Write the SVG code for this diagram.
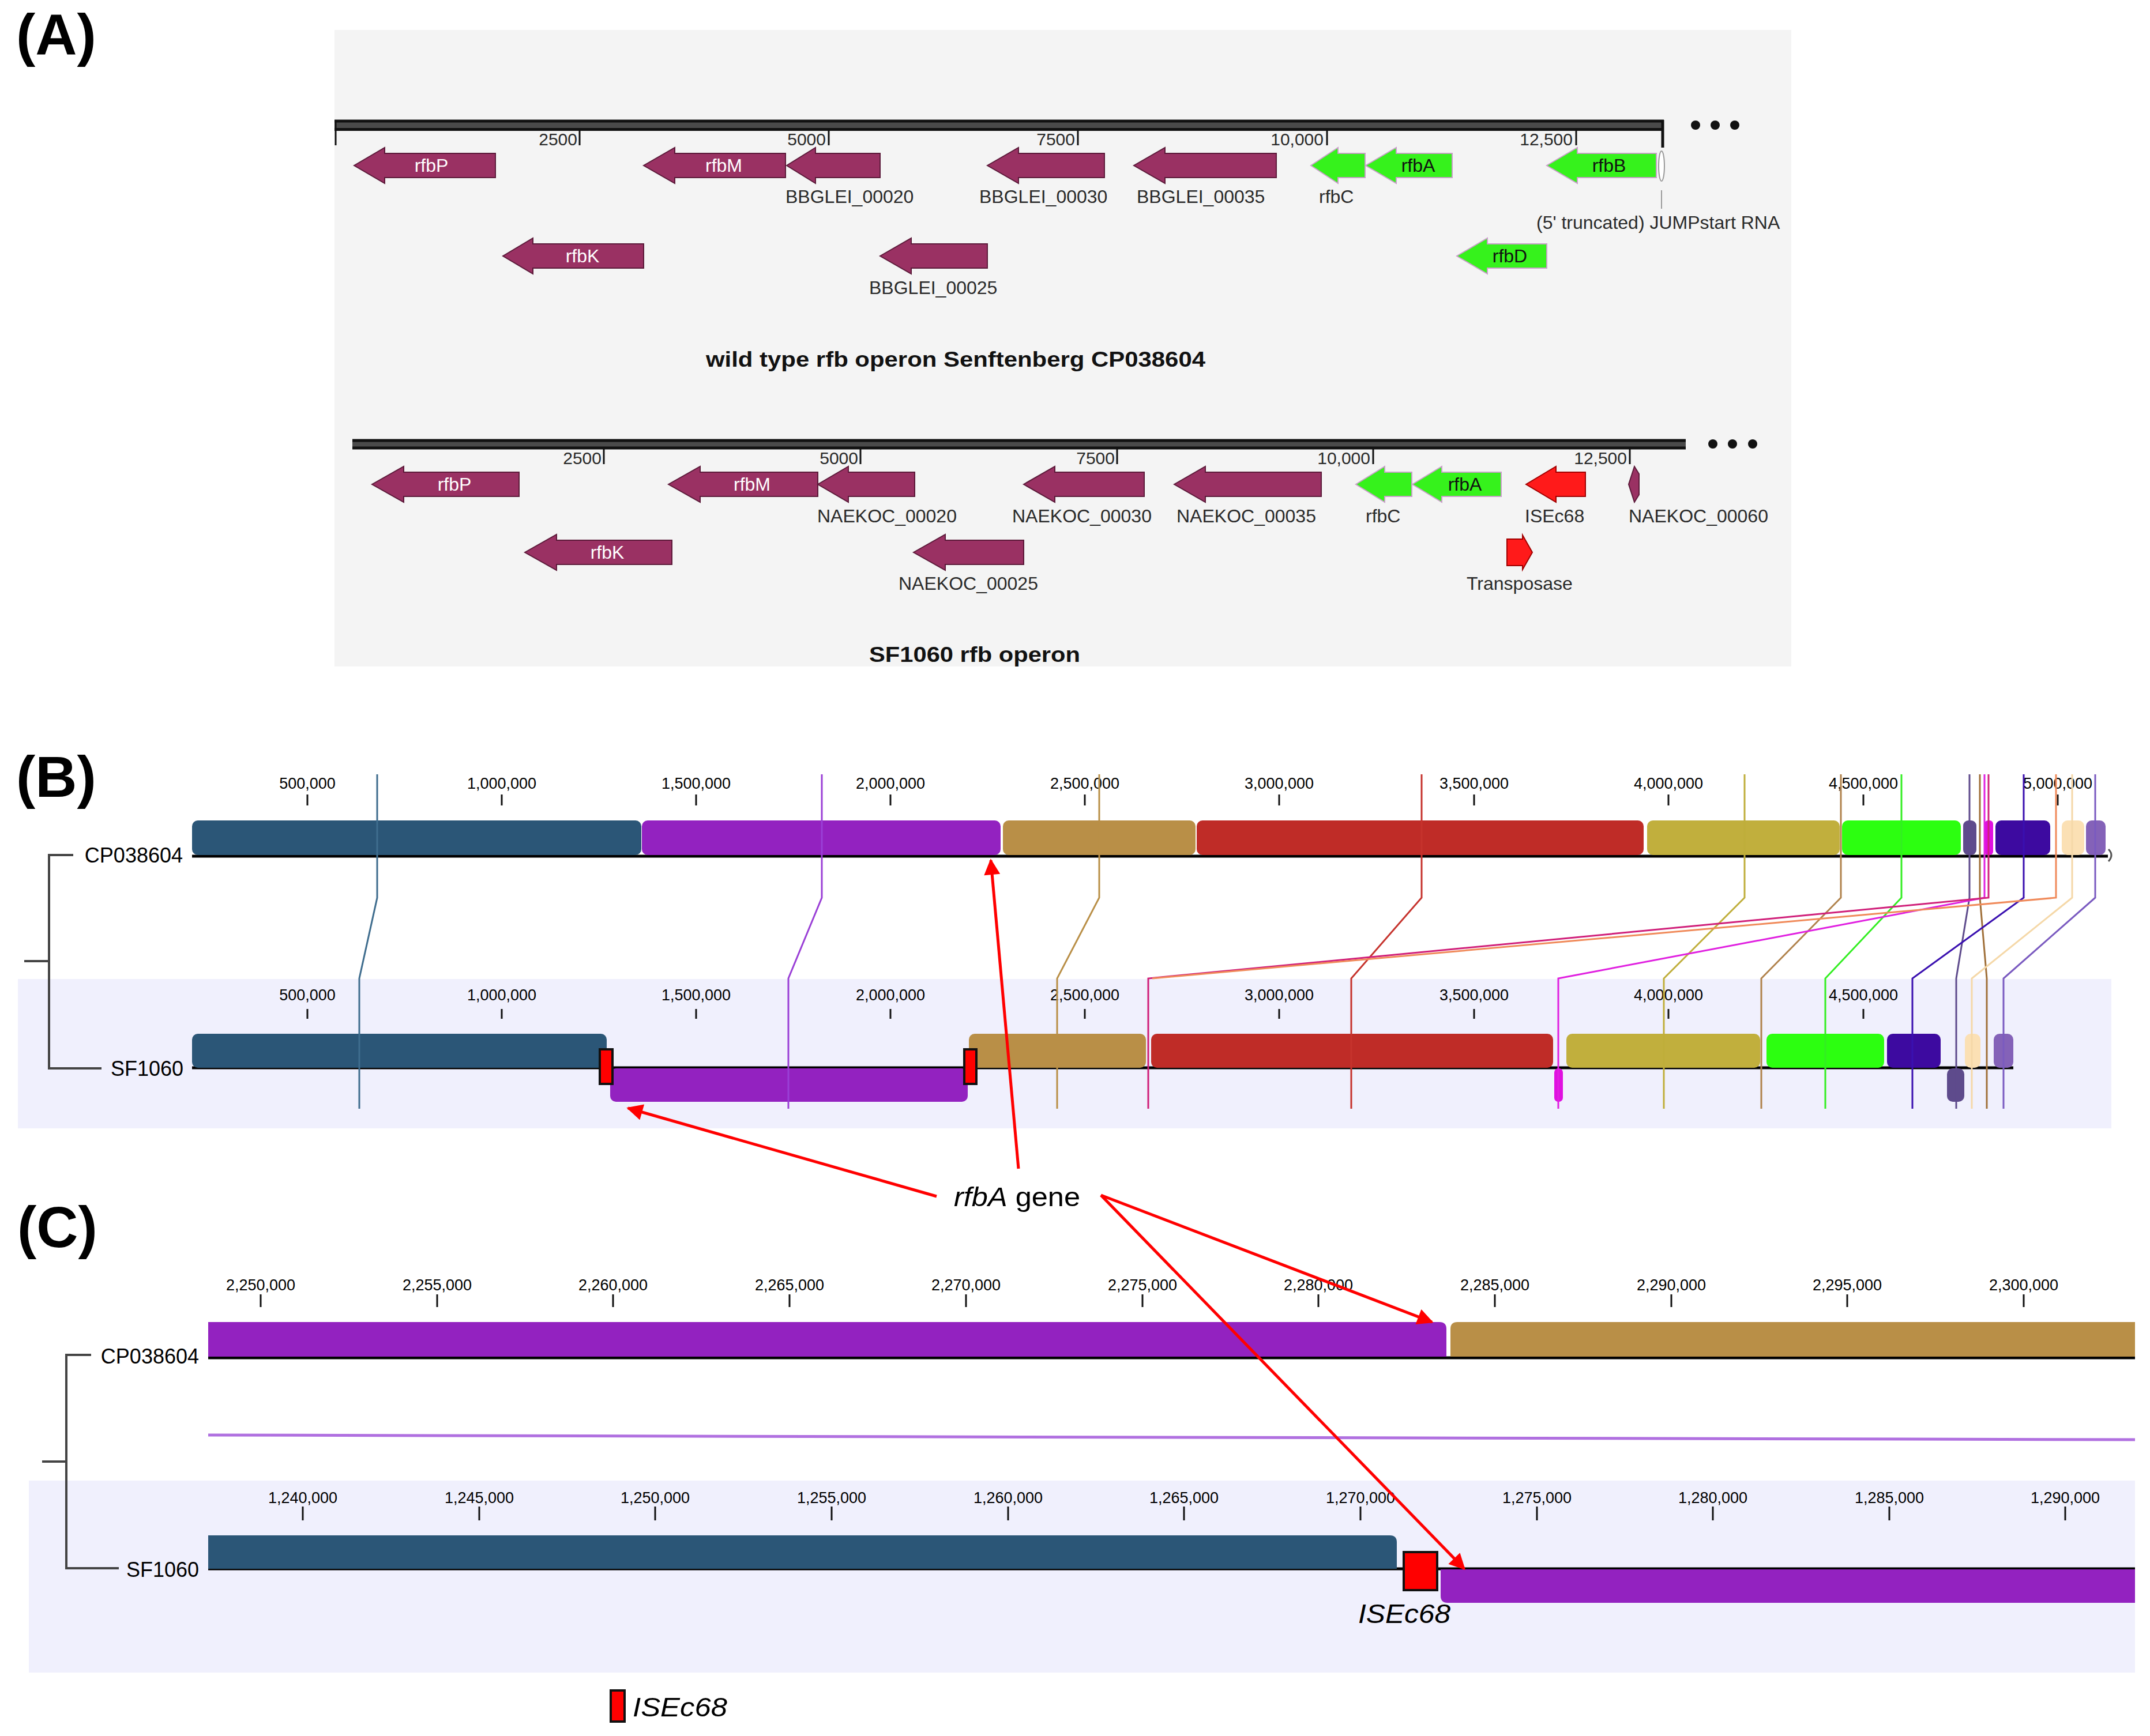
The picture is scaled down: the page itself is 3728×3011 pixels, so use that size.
<svg xmlns="http://www.w3.org/2000/svg" width="3728" height="3011" viewBox="0 0 3728 3011">
<style>
.pl{font-family:'Liberation Sans',Arial,sans-serif;font-weight:bold;font-size:100px;fill:#000}
.gl{font-family:'Liberation Sans',Arial,sans-serif;font-size:32px;fill:#2a2a2a}
.gin{font-family:'Liberation Sans',Arial,sans-serif;font-size:32px;text-anchor:middle}
.rl{font-family:'Liberation Sans',Arial,sans-serif;font-size:30px;fill:#2a2a2a;text-anchor:end}
.tt{font-family:'Liberation Sans',Arial,sans-serif;font-size:36px;font-weight:bold;fill:#111}
.ml{font-family:'Liberation Sans',Arial,sans-serif;font-size:27px;fill:#000;text-anchor:middle}
.sl{font-family:'Liberation Sans',Arial,sans-serif;font-size:36px;fill:#000;text-anchor:end}
.an{font-family:'Liberation Sans',Arial,sans-serif;font-size:46px;fill:#000}
.pu{fill:#9a3163;stroke:#5c1a3a;stroke-width:2}
.gr{fill:#36f21c;stroke:#c8a0c8;stroke-width:2}
.rd{fill:#ff1a1a;stroke:#a00000;stroke-width:2}
.tk{stroke:#111;stroke-width:3}
.tkm{stroke:#111;stroke-width:3}
.bb{stroke:#000;stroke-width:5}
.tree{stroke:#444;stroke-width:4;fill:none}
.lcb{fill:none;stroke-width:3}
.ra{stroke:#ff0000;stroke-width:5;fill:none;marker-end:url(#ah)}
.isb{fill:#ff0000;stroke:#111;stroke-width:4}
</style>
<defs>
<marker id="ah" markerUnits="userSpaceOnUse" markerWidth="38" markerHeight="28" viewBox="0 0 10 10" refX="9" refY="5" orient="auto">
<path d="M0,0 L10,5 L0,10 z" fill="#ff0000"/>
</marker>
</defs>
<rect x="0" y="0" width="3728" height="3011" fill="#ffffff"/>

<!-- Panel labels -->
<text class="pl" x="28" y="95">(A)</text>
<text class="pl" x="28" y="1382">(B)</text>
<text class="pl" x="30" y="2163">(C)</text>

<!-- ================= PANEL A ================= -->
<g id="panelA">
<rect x="580" y="52" width="2526" height="1104" fill="#f4f4f4"/>
<!-- top ruler -->
<g id="rulerA1">
<rect x="580" y="208" width="2305" height="19" fill="#4a4a4a"/>
<line x1="580" y1="210" x2="2885" y2="210" stroke="#111" stroke-width="5"/>
<line x1="580" y1="224.5" x2="2885" y2="224.5" stroke="#111" stroke-width="5"/>
<line x1="582" y1="208" x2="582" y2="252" class="tk"/>
<line x1="2883" y1="208" x2="2883" y2="256" stroke="#111" stroke-width="5"/>
<line class="tk" x1="1005" y1="227" x2="1005" y2="252"/>
<line class="tk" x1="1437" y1="227" x2="1437" y2="252"/>
<line class="tk" x1="1869" y1="227" x2="1869" y2="252"/>
<line class="tk" x1="2301" y1="227" x2="2301" y2="252"/>
<line class="tk" x1="2733" y1="227" x2="2733" y2="252"/>
<text class="rl" x="1001" y="252">2500</text>
<text class="rl" x="1432" y="252">5000</text>
<text class="rl" x="1864" y="252">7500</text>
<text class="rl" x="2295" y="252">10,000</text>
<text class="rl" x="2727" y="252">12,500</text>
<circle cx="2940" cy="217" r="8" fill="#111"/>
<circle cx="2974" cy="217" r="8" fill="#111"/>
<circle cx="3008" cy="217" r="8" fill="#111"/>
</g>
<g id="geneA1_rfbP"><polygon class="pu" points="614,287 667,256 667,266 859,266 859,308 667,308 667,318"/><text class="gin" x="748" y="298" fill="#fff">rfbP</text></g>
<g id="geneA1_rfbM"><polygon class="pu" points="1116,287 1170,256 1170,266 1362,266 1362,308 1170,308 1170,318"/><text class="gin" x="1255" y="298" fill="#fff">rfbM</text></g>
<g id="geneA1_00020"><polygon class="pu" points="1364,287 1414,256 1414,266 1526,266 1526,308 1414,308 1414,318"/><text class="gl" x="1362" y="352">BBGLEI_00020</text></g>
<g id="geneA1_00030"><polygon class="pu" points="1712,287 1766,256 1766,266 1915,266 1915,308 1766,308 1766,318"/><text class="gl" x="1698" y="352">BBGLEI_00030</text></g>
<g id="geneA1_00035"><polygon class="pu" points="1966,287 2020,256 2020,266 2213,266 2213,308 2020,308 2020,318"/><text class="gl" x="1971" y="352">BBGLEI_00035</text></g>
<g id="geneA1_rfbC"><polygon class="gr" points="2273,287 2320,256 2320,266 2367,266 2367,308 2320,308 2320,318"/><text class="gl" x="2287" y="352">rfbC</text></g>
<g id="geneA1_rfbA"><polygon class="gr" points="2368,287 2421,256 2421,266 2518,266 2518,308 2421,308 2421,318"/><text class="gin" x="2459" y="298" fill="#111">rfbA</text></g>
<g id="geneA1_rfbB"><polygon class="gr" points="2682,287 2735,256 2735,266 2872,266 2872,308 2735,308 2735,318"/><text class="gin" x="2790" y="298" fill="#111">rfbB</text></g>
<g id="geneA1_jump"><ellipse cx="2881" cy="288" rx="5" ry="26" fill="#fff" stroke="#999" stroke-width="2"/><line x1="2881" y1="330" x2="2881" y2="362" stroke="#999" stroke-width="2"/><text class="gl" x="2664" y="397">(5' truncated) JUMPstart RNA</text></g>
<g id="geneA1_rfbK"><polygon class="pu" points="872,444 924,413 924,423 1116,423 1116,465 924,465 924,475"/><text class="gin" x="1010" y="455" fill="#fff">rfbK</text></g>
<g id="geneA1_00025"><polygon class="pu" points="1526,444 1580,413 1580,423 1712,423 1712,465 1580,465 1580,475"/><text class="gl" x="1507" y="510">BBGLEI_00025</text></g>
<g id="geneA1_rfbD"><polygon class="gr" points="2526,444 2579,413 2579,423 2682,423 2682,465 2579,465 2579,475"/><text class="gin" x="2618" y="455" fill="#111">rfbD</text></g>
<text class="tt" x="1224" y="636" textLength="866" lengthAdjust="spacingAndGlyphs">wild type rfb operon Senftenberg CP038604</text>

<!-- bottom ruler -->
<g id="rulerA2">
<rect x="611" y="762" width="2312" height="17" fill="#4a4a4a"/>
<line x1="611" y1="764" x2="2923" y2="764" stroke="#111" stroke-width="5"/>
<line x1="611" y1="777" x2="2923" y2="777" stroke="#111" stroke-width="5"/>
<line class="tk" x1="1047" y1="779" x2="1047" y2="805"/>
<line class="tk" x1="1492" y1="779" x2="1492" y2="805"/>
<line class="tk" x1="1937" y1="779" x2="1937" y2="805"/>
<line class="tk" x1="2381" y1="779" x2="2381" y2="805"/>
<line class="tk" x1="2826" y1="779" x2="2826" y2="805"/>
<text class="rl" x="1043" y="805">2500</text>
<text class="rl" x="1488" y="805">5000</text>
<text class="rl" x="1933" y="805">7500</text>
<text class="rl" x="2376" y="805">10,000</text>
<text class="rl" x="2821" y="805">12,500</text>
<circle cx="2970" cy="770" r="8" fill="#111"/>
<circle cx="3004" cy="770" r="8" fill="#111"/>
<circle cx="3039" cy="770" r="8" fill="#111"/>
</g>
<g id="geneA2_rfbP"><polygon class="pu" points="645,840 700,809 700,819 900,819 900,861 700,861 700,871"/><text class="gin" x="788" y="851" fill="#fff">rfbP</text></g>
<g id="geneA2_rfbM"><polygon class="pu" points="1159,840 1214,809 1214,819 1418,819 1418,861 1214,861 1214,871"/><text class="gin" x="1304" y="851" fill="#fff">rfbM</text></g>
<g id="geneA2_00020"><polygon class="pu" points="1418,840 1471,809 1471,819 1586,819 1586,861 1471,861 1471,871"/><text class="gl" x="1417" y="906">NAEKOC_00020</text></g>
<g id="geneA2_00030"><polygon class="pu" points="1775,840 1829,809 1829,819 1984,819 1984,861 1829,861 1829,871"/><text class="gl" x="1755" y="906">NAEKOC_00030</text></g>
<g id="geneA2_00035"><polygon class="pu" points="2036,840 2090,809 2090,819 2291,819 2291,861 2090,861 2090,871"/><text class="gl" x="2040" y="906">NAEKOC_00035</text></g>
<g id="geneA2_rfbC"><polygon class="gr" points="2351,840 2401,809 2401,819 2448,819 2448,861 2401,861 2401,871"/><text class="gl" x="2368" y="906">rfbC</text></g>
<g id="geneA2_rfbA"><polygon class="gr" points="2449,840 2500,809 2500,819 2603,819 2603,861 2500,861 2500,871"/><text class="gin" x="2540" y="851" fill="#111">rfbA</text></g>
<g id="geneA2_ISEc68"><polygon class="rd" points="2646,840 2698,809 2698,819 2749,819 2749,861 2698,861 2698,871"/><text class="gl" x="2644" y="906">ISEc68</text></g>
<g id="geneA2_00060"><polygon class="pu" points="2824,840 2834,809 2842,822 2842,858 2834,871"/><text class="gl" x="2824" y="906">NAEKOC_00060</text></g>
<g id="geneA2_rfbK"><polygon class="pu" points="910,958 965,927 965,937 1165,937 1165,979 965,979 965,989"/><text class="gin" x="1053" y="969" fill="#fff">rfbK</text></g>
<g id="geneA2_00025"><polygon class="pu" points="1584,958 1639,927 1639,937 1775,937 1775,979 1639,979 1639,989"/><text class="gl" x="1558" y="1023">NAEKOC_00025</text></g>
<g id="geneA2_transposase"><polygon class="rd" points="2613,935 2640,935 2640,928 2657,958 2640,988 2640,981 2613,981"/><text class="gl" x="2543" y="1023">Transposase</text></g>
<text class="tt" x="1507" y="1148" textLength="366" lengthAdjust="spacingAndGlyphs">SF1060 rfb operon</text>
</g>

<!-- ================= PANEL B ================= -->
<g id="panelB">
<rect x="31" y="1698" width="3630" height="259" fill="#f0f0fd"/>
<g id="treeB">
<path class="tree" d="M127,1483 H85 V1853 H176 M42,1667 H85"/>
</g>
<text class="sl" x="317" y="1496">CP038604</text>
<text class="sl" x="318" y="1866">SF1060</text>
<g id="rulerB1">
<g class="tkm">
<line x1="533" y1="1378" x2="533" y2="1397"/><line x1="870" y1="1378" x2="870" y2="1397"/><line x1="1207" y1="1378" x2="1207" y2="1397"/><line x1="1544" y1="1378" x2="1544" y2="1397"/><line x1="1881" y1="1378" x2="1881" y2="1397"/><line x1="2218" y1="1378" x2="2218" y2="1397"/><line x1="2556" y1="1378" x2="2556" y2="1397"/><line x1="2893" y1="1378" x2="2893" y2="1397"/><line x1="3231" y1="1378" x2="3231" y2="1397"/><line x1="3568" y1="1378" x2="3568" y2="1397"/>
</g>
<text class="ml" x="533" y="1368">500,000</text><text class="ml" x="870" y="1368">1,000,000</text><text class="ml" x="1207" y="1368">1,500,000</text><text class="ml" x="1544" y="1368">2,000,000</text><text class="ml" x="1881" y="1368">2,500,000</text><text class="ml" x="2218" y="1368">3,000,000</text><text class="ml" x="2556" y="1368">3,500,000</text><text class="ml" x="2893" y="1368">4,000,000</text><text class="ml" x="3231" y="1368">4,500,000</text><text class="ml" x="3568" y="1368">5,000,000</text>
</g>
<g id="genomeB_CP038604">
<line class="bb" x1="333" y1="1485" x2="3655" y2="1485"/>
<rect x="333" y="1423" width="779" height="60" rx="10" fill="#2b5677"/>
<rect x="1113" y="1423" width="622" height="60" rx="10" fill="#9322c0"/>
<rect x="1739" y="1423" width="334" height="60" rx="10" fill="#b98f47"/>
<rect x="2075" y="1423" width="775" height="60" rx="10" fill="#bf2c27"/>
<rect x="2856" y="1423" width="334" height="60" rx="10" fill="#c1af3d"/>
<rect x="3194" y="1423" width="206" height="60" rx="10" fill="#2cff10"/>
<rect x="3404" y="1423" width="23" height="60" rx="9" fill="#5e4b8c"/>
<rect x="3441" y="1423" width="15" height="60" rx="6" fill="#e010e0"/>
<rect x="3460" y="1423" width="95" height="60" rx="10" fill="#3d0aa0"/>
<rect x="3575" y="1423" width="39" height="60" rx="10" fill="#fbe0b4"/>
<rect x="3617" y="1423" width="34" height="60" rx="10" fill="#8462b8"/>
<path d="M3656,1473 Q3666,1483 3656,1494" fill="none" stroke="#555" stroke-width="3"/>
</g>
<g id="rulerB2">
<g class="tkm">
<line x1="533" y1="1750" x2="533" y2="1767"/><line x1="870" y1="1750" x2="870" y2="1767"/><line x1="1207" y1="1750" x2="1207" y2="1767"/><line x1="1544" y1="1750" x2="1544" y2="1767"/><line x1="1881" y1="1750" x2="1881" y2="1767"/><line x1="2218" y1="1750" x2="2218" y2="1767"/><line x1="2556" y1="1750" x2="2556" y2="1767"/><line x1="2893" y1="1750" x2="2893" y2="1767"/><line x1="3231" y1="1750" x2="3231" y2="1767"/>
</g>
<text class="ml" x="533" y="1735">500,000</text><text class="ml" x="870" y="1735">1,000,000</text><text class="ml" x="1207" y="1735">1,500,000</text><text class="ml" x="1544" y="1735">2,000,000</text><text class="ml" x="1881" y="1735">2,500,000</text><text class="ml" x="2218" y="1735">3,000,000</text><text class="ml" x="2556" y="1735">3,500,000</text><text class="ml" x="2893" y="1735">4,000,000</text><text class="ml" x="3231" y="1735">4,500,000</text>
</g>
<g id="genomeB_SF1060">
<line class="bb" x1="333" y1="1852" x2="3491" y2="1852"/>
<rect x="333" y="1793" width="719" height="59" rx="10" fill="#2b5677"/>
<rect x="1058" y="1853" width="620" height="58" rx="10" fill="#9322c0"/>
<rect x="1680" y="1793" width="307" height="59" rx="10" fill="#b98f47"/>
<rect x="1996" y="1793" width="697" height="59" rx="10" fill="#bf2c27"/>
<rect x="2695" y="1853" width="15" height="58" rx="7" fill="#e010e0"/>
<rect x="2716" y="1793" width="336" height="59" rx="10" fill="#c1af3d"/>
<rect x="3063" y="1793" width="204" height="59" rx="10" fill="#2cff10"/>
<rect x="3272" y="1793" width="93" height="59" rx="10" fill="#3d0aa0"/>
<rect x="3376" y="1853" width="30" height="58" rx="10" fill="#5e4b8c"/>
<rect x="3407" y="1793" width="27" height="59" rx="10" fill="#fbe0b4"/>
<rect x="3457" y="1793" width="34" height="59" rx="10" fill="#8462b8"/>
<rect class="isb" x="1040" y="1820" width="22" height="60"/>
<rect class="isb" x="1672" y="1820" width="21" height="60"/>
</g>
</g>

<!-- ================= PANEL C ================= -->
<g id="panelC">
<rect x="50" y="2568" width="3652" height="333" fill="#f0f0fd"/>
<g id="treeC">
<path class="tree" d="M158,2350 H115 V2720 H206 M73,2535 H115"/>
</g>
<text class="sl" x="345" y="2365">CP038604</text>
<text class="sl" x="345" y="2735">SF1060</text>
<g id="rulerC1">
<g class="tkm">
<line x1="452" y1="2245" x2="452" y2="2267"/><line x1="758" y1="2245" x2="758" y2="2267"/><line x1="1063" y1="2245" x2="1063" y2="2267"/><line x1="1369" y1="2245" x2="1369" y2="2267"/><line x1="1675" y1="2245" x2="1675" y2="2267"/><line x1="1981" y1="2245" x2="1981" y2="2267"/><line x1="2286" y1="2245" x2="2286" y2="2267"/><line x1="2592" y1="2245" x2="2592" y2="2267"/><line x1="2898" y1="2245" x2="2898" y2="2267"/><line x1="3203" y1="2245" x2="3203" y2="2267"/><line x1="3509" y1="2245" x2="3509" y2="2267"/>
</g>
<text class="ml" x="452" y="2238">2,250,000</text><text class="ml" x="758" y="2238">2,255,000</text><text class="ml" x="1063" y="2238">2,260,000</text><text class="ml" x="1369" y="2238">2,265,000</text><text class="ml" x="1675" y="2238">2,270,000</text><text class="ml" x="1981" y="2238">2,275,000</text><text class="ml" x="2286" y="2238">2,280,000</text><text class="ml" x="2592" y="2238">2,285,000</text><text class="ml" x="2898" y="2238">2,290,000</text><text class="ml" x="3203" y="2238">2,295,000</text><text class="ml" x="3509" y="2238">2,300,000</text>
</g>
<g id="genomeC_CP038604">
<line class="bb" x1="361" y1="2355" x2="3702" y2="2355"/>
<path d="M361,2293 H2496 Q2508,2293 2508,2305 V2353 H361 Z" fill="#9322c0"/>
<path d="M2527,2293 H3702 V2353 H2515 V2305 Q2515,2293 2527,2293 Z" fill="#b98f47"/>
</g>
<g id="rulerC2">
<g class="tkm">
<line x1="525" y1="2613" x2="525" y2="2637"/><line x1="831" y1="2613" x2="831" y2="2637"/><line x1="1136" y1="2613" x2="1136" y2="2637"/><line x1="1442" y1="2613" x2="1442" y2="2637"/><line x1="1748" y1="2613" x2="1748" y2="2637"/><line x1="2053" y1="2613" x2="2053" y2="2637"/><line x1="2359" y1="2613" x2="2359" y2="2637"/><line x1="2665" y1="2613" x2="2665" y2="2637"/><line x1="2970" y1="2613" x2="2970" y2="2637"/><line x1="3276" y1="2613" x2="3276" y2="2637"/><line x1="3581" y1="2613" x2="3581" y2="2637"/>
</g>
<text class="ml" x="525" y="2607">1,240,000</text><text class="ml" x="831" y="2607">1,245,000</text><text class="ml" x="1136" y="2607">1,250,000</text><text class="ml" x="1442" y="2607">1,255,000</text><text class="ml" x="1748" y="2607">1,260,000</text><text class="ml" x="2053" y="2607">1,265,000</text><text class="ml" x="2359" y="2607">1,270,000</text><text class="ml" x="2665" y="2607">1,275,000</text><text class="ml" x="2970" y="2607">1,280,000</text><text class="ml" x="3276" y="2607">1,285,000</text><text class="ml" x="3581" y="2607">1,290,000</text>
</g>
<g id="genomeC_SF1060">
<line class="bb" x1="361" y1="2721" x2="3702" y2="2721"/>
<path d="M361,2663 H2410 Q2422,2663 2422,2675 V2721 H361 Z" fill="#2b5677"/>
<path d="M2498,2722 H3702 V2780 H2510 Q2498,2780 2498,2768 Z" fill="#9322c0"/>
<rect class="isb" x="2434" y="2692" width="58" height="66"/>
<text class="an" x="2355" y="2815" font-style="italic" textLength="160" lengthAdjust="spacingAndGlyphs">ISEc68</text>
</g>
<g id="legend">
<rect class="isb" x="1059" y="2932" width="24" height="54"/>
<text class="an" x="1097" y="2977" font-style="italic" textLength="164" lengthAdjust="spacingAndGlyphs">ISEc68</text>
</g>
</g>

<!-- ================= CONNECTORS ================= -->
<g id="connectors">
<g id="lcbB">
<polyline class="lcb" stroke="#3f6d8e" points="654,1343 654,1557 623,1697 623,1923"/>
<polyline class="lcb" stroke="#9a3fd6" points="1425,1343 1425,1557 1367,1697 1367,1923"/>
<polyline class="lcb" stroke="#b98f47" points="1906,1343 1906,1557 1833,1697 1833,1923"/>
<polyline class="lcb" stroke="#c6332d" points="2465,1343 2465,1557 2343,1697 2343,1923"/>
<polyline class="lcb" stroke="#bfae3a" points="3025,1343 3025,1557 2885,1697 2885,1923"/>
<polyline class="lcb" stroke="#b0824c" points="3192,1343 3192,1557 3054,1697 3054,1923"/>
<polyline class="lcb" stroke="#33ee22" points="3297,1343 3297,1557 3165,1697 3165,1923"/>
<polyline class="lcb" stroke="#5e4b8c" points="3415,1343 3415,1557 3392,1697 3392,1923"/>
<polyline class="lcb" stroke="#a0703a" points="3433,1343 3433,1557 3445,1697 3445,1923"/>
<polyline class="lcb" stroke="#e020e0" points="3441,1343 3441,1557 2702,1697 2702,1923"/>
<polyline class="lcb" stroke="#d0207a" points="3448,1343 3448,1557 1991,1697 1991,1923"/>
<polyline class="lcb" stroke="#3a10b0" points="3509,1343 3509,1557 3316,1697 3316,1923"/>
<polyline class="lcb" stroke="#f08a5a" points="3565,1343 3565,1557 1998,1697"/>
<polyline class="lcb" stroke="#f5d8a8" points="3593,1343 3593,1557 3419,1697 3419,1923"/>
<polyline class="lcb" stroke="#7a5ac0" points="3633,1343 3633,1557 3474,1697 3474,1923"/>
</g>
<g id="lcbC">
<line x1="361" y1="2489" x2="3702" y2="2497" stroke="#b070e0" stroke-width="5"/>
</g>
<g id="annotation">
<line class="ra" x1="1766" y1="2027" x2="1718" y2="1492"/>
<line class="ra" x1="1624" y1="2075" x2="1089" y2="1922"/>
<line class="ra" x1="1909" y1="2073" x2="2483" y2="2293"/>
<line class="ra" x1="1909" y1="2073" x2="2539" y2="2721"/>
<text class="an" x="1654" y="2092" textLength="219" lengthAdjust="spacingAndGlyphs"><tspan font-style="italic">rfbA</tspan> gene</text>
</g>
</g>
</svg>
